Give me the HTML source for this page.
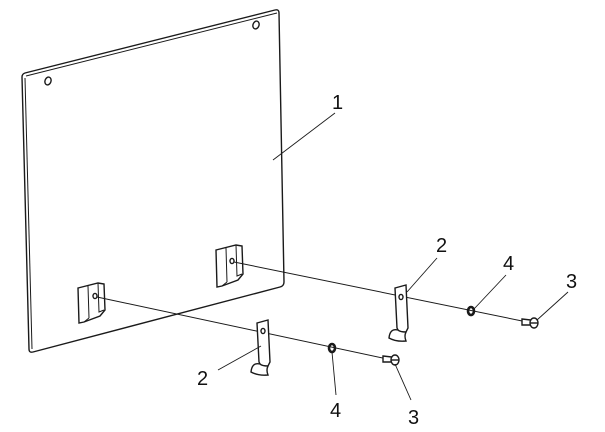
<!DOCTYPE html>
<html><head><meta charset="utf-8"><style>
html,body{margin:0;padding:0;background:#fff;width:605px;height:432px;overflow:hidden}
text{font-family:"Liberation Sans",sans-serif;font-size:20px;fill:#111}
</style></head><body>
<svg width="605" height="432" viewBox="0 0 605 432" xmlns="http://www.w3.org/2000/svg" fill="none" stroke="#1a1a1a" stroke-width="1.4">
<!-- panel -->
<path d="M25,73 L275,10 Q279,9 279,13 L284,282 Q284,286 280,287 L33,352 Q29,353 29,349 L22,77 Q22,74 25,73 Z" fill="#fff"/>
<path d="M26,76 L277,13" stroke-width="1"/>
<path d="M25,78 L32,349" stroke-width="1"/>
<ellipse cx="48" cy="81" rx="3" ry="4" transform="rotate(20 48 81)"/>
<ellipse cx="256" cy="25" rx="3" ry="4" transform="rotate(20 256 25)"/>
<!-- bracket left -->
<path d="M78,288 L98,283 L104,284 L105,310 L100,316 L84,322 L79,323 Z" fill="#fff"/>
<path d="M88,286 L89,318 M98,283 L99,312 L104,310" stroke-width="1"/>
<path d="M84,322 L89,318" stroke-width="1"/>
<ellipse cx="95" cy="296" rx="2" ry="2.6"/>
<!-- bracket right -->
<path d="M216,250 L236,245 L242,246 L243,274 L238,280 L222,286 L217,287 Z" fill="#fff"/>
<path d="M226,248 L227,282 M236,245 L237,276 L242,274" stroke-width="1"/>
<path d="M222,286 L227,282" stroke-width="1"/>
<ellipse cx="232" cy="261" rx="2" ry="2.6"/>
<!-- axis lines -->
<path d="M97,297 L392,360" stroke-width="1"/>
<path d="M234,262 L532,323" stroke-width="1"/>
<!-- clip lower -->
<path d="M257,323 L268,320 L270,362 L268,366 Q262,366 260,364 L259,362 Z" fill="#fff"/>
<path d="M260,364 Q252,362 251,372 Q258,376 268,375 Q266,370 268,366"/>
<ellipse cx="263" cy="331" rx="2" ry="2.6"/>
<!-- clip upper -->
<path d="M395,288 L406,285 L408,328 L406,332 Q400,332 398,330 L397,328 Z" fill="#fff"/>
<path d="M398,330 Q390,328 389,338 Q396,342 406,341 Q404,336 406,332"/>
<ellipse cx="401" cy="297" rx="2" ry="2.6"/>
<!-- washers -->
<ellipse cx="332" cy="348" rx="3" ry="4" stroke-width="2.6"/>
<ellipse cx="471" cy="311" rx="3" ry="4" stroke-width="2.6"/>
<!-- screws -->
<path d="M383,356 L392,357 L392,362 L383,362 Z" fill="#fff"/>
<ellipse cx="395" cy="360" rx="4" ry="5" fill="#fff"/><path d="M391,360 L399,360"/>
<path d="M522,319 L531,320 L531,325 L522,325 Z" fill="#fff"/>
<ellipse cx="534" cy="323" rx="4" ry="5" fill="#fff"/><path d="M530,323 L538,323"/>
<!-- leaders -->
<g stroke-width="0.9">
<path d="M335,113 L273,160"/>
<path d="M218,370 L261,346"/>
<path d="M437,258 L407,292"/>
<path d="M506,275 L474,309"/>
<path d="M336,395 L332,352"/>
<path d="M568,292 L537,320"/>
<path d="M411,400 L395,364"/>
</g>
<g stroke="none">
<text x="332" y="109">1</text>
<text x="197" y="385">2</text>
<text x="436" y="252">2</text>
<text x="503" y="270">4</text>
<text x="330" y="417">4</text>
<text x="566" y="288">3</text>
<text x="408" y="424">3</text>
</g>
</svg>
</body></html>
